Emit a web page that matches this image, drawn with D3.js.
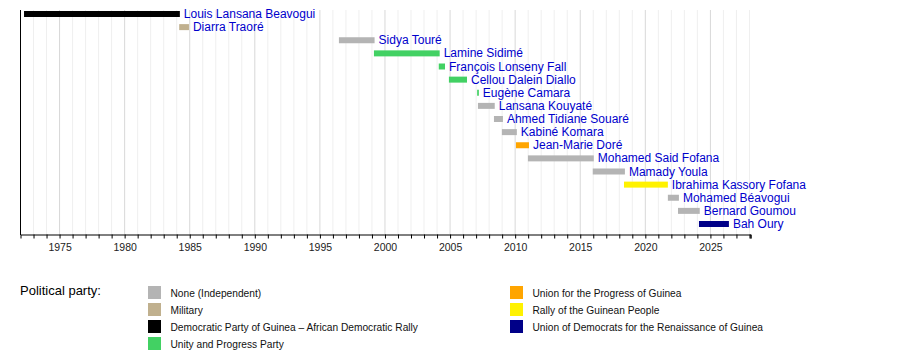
<!DOCTYPE html>
<html>
<head>
<meta charset="utf-8">
<script src="https://cdn.jsdelivr.net/npm/d3@7"></script>
<style>
body { margin: 0; background: white; }
svg text { font-family: "Liberation Sans", Arial, Helvetica, sans-serif; }
</style>
</head>
<body>
<div id="chart"></div>
<script>
var names = ["Louis Lansana Beavogui", "Diarra Traoré", "Sidya Touré", "Lamine Sidimé",
    "François Lonseny Fall", "Cellou Dalein Diallo", "Eugène Camara", "Lansana Kouyaté",
    "Ahmed Tidiane Souaré", "Kabiné Komara", "Jean-Marie Doré", "Mohamed Said Fofana",
    "Mamady Youla", "Ibrahima Kassory Fofana", "Mohamed Béavogui", "Bernard Goumou", "Bah Oury"]
var starts = [1972.31, 1984.23, 1996.5, 1999.19, 2004.17, 2004.95, 2007.12, 2007.18,
    2008.41, 2009.02, 2010.1, 2011.02, 2016.0, 2018.4, 2021.77, 2022.55, 2024.16]
var ends = [1984.28, 1984.98, 1999.24, 2004.24, 2004.65, 2006.34, 2007.25, 2008.47,
    2009.1, 2010.17, 2011.1, 2016.08, 2018.47, 2021.77, 2022.62, 2024.22, 2026.46]
var parties = ["PDG", "MIL", "IND", "UPP", "UPP", "UPP", "UPP", "IND",
    "IND", "IND", "UPG", "IND", "IND", "RPG", "IND", "IND", "UDRG"]

var partyKeys = ["IND", "MIL", "PDG", "UPP", "UPG", "RPG", "UDRG"]
var partyNames = ["None (Independent)", "Military", "Democratic Party of Guinea – African Democratic Rally",
    "Unity and Progress Party", "Union for the Progress of Guinea", "Rally of the Guinean People",
    "Union of Democrats for the Renaissance of Guinea"]
var partyColors = ["#b4b4b4", "#c0b08e", "#000000", "#42d163", "#ffa500", "#fff200", "#000088"]

var tickYears = d3.range(1975, 2030, 5)
var minorYears = d3.range(1972, 2029)

let svg = d3.select("#chart")
    .append("svg")
    .attr("width", 900)
    .attr("height", 354)

var x = d3.scaleLinear()
    .domain([1972, 2028.08])
    .range([20, 750])
var y = d3.scalePoint()
    .domain(names)
    .range([14, 224])
var color = d3.scaleOrdinal()
    .domain(partyKeys)
    .range(partyColors)

// grid
svg.append("g")
    .selectAll("line")
    .data(minorYears)
    .join("line")
    .attr("x1", d => x(d) + 0.5)
    .attr("x2", d => x(d) + 0.5)
    .attr("y1", 10)
    .attr("y2", 234)
    .attr("stroke", d => d % 5 == 0 ? "#d8d8d8" : "#efefef")
    .attr("stroke-width", 1)

let axis = svg.append("g")
    .attr("transform", "translate(0.5, 234.5)")
    .call(d3.axisBottom(x)
        .tickValues(minorYears.concat([2028.08]).filter(d => d > 1972))
        .tickSize(4)
        .tickFormat(d => tickYears.includes(d) ? d : ""))
axis.select(".domain").attr("stroke", "#000")
axis.selectAll(".tick line").attr("stroke", "#000")
axis.selectAll(".tick text")
    .attr("fill", "#222")
    .style("font-size", "10.5px")
    .attr("dy", "0.9em")

svg.append("line")
    .attr("x1", 20.5)
    .attr("x2", 20.5)
    .attr("y1", 10)
    .attr("y2", 235)
    .attr("stroke", "#000")

// bars
let rows = svg.append("g")
    .selectAll("g")
    .data(names)
    .join("g")

rows.append("rect")
    .attr("x", (d, i) => x(starts[i]))
    .attr("y", d => y(d) - 3)
    .attr("width", (d, i) => Math.max(1.5, x(ends[i]) - x(starts[i])))
    .attr("height", 6)
    .attr("fill", (d, i) => color(parties[i]))

rows.append("text")
    .attr("x", (d, i) => x(ends[i]) + 4)
    .attr("y", d => y(d) + 4)
    .attr("fill", "#0000cc")
    .style("font-size", "12px")
    .text(d => d)

// legend
svg.append("text")
    .attr("x", 20)
    .attr("y", 295)
    .style("font-size", "13px")
    .attr("fill", "#000")
    .text("Political party:")

let legend = svg.append("g")
    .selectAll("g")
    .data(partyKeys)
    .join("g")
    .attr("transform", (d, i) => i < 4
        ? "translate(148," + (286 + i * 17) + ")"
        : "translate(510," + (286 + (i - 4) * 17) + ")")

legend.append("rect")
    .attr("width", 13)
    .attr("height", 13)
    .attr("fill", d => color(d))

legend.append("text")
    .attr("x", 22.5)
    .attr("y", 10.5)
    .style("font-size", "10.2px")
    .attr("fill", "#111")
    .text((d, i) => partyNames[i])
</script>
</body>
</html>
